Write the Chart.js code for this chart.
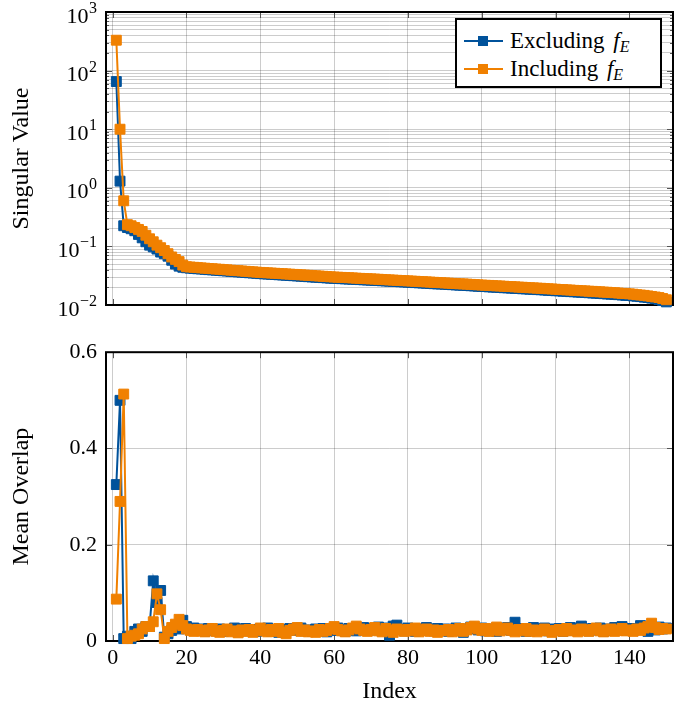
<!DOCTYPE html>
<html>
<head>
<meta charset="utf-8">
<script src="https://cdn.jsdelivr.net/npm/chart.js@4.4.1/dist/chart.umd.min.js"></script>
<style>
  body { margin: 0; background: #fff; }
  #wrap { position: relative; width: 689px; height: 706px; }
  .box { position: absolute; left: 0; width: 689px; }
  #legend {
    position: absolute; left: 455px; top: 18px; width: 203px; height: 66px;
    border: 2px solid #000; background: #fff;
    font-family: 'Liberation Serif', 'Times New Roman', serif; font-size: 23px;
  }
  #legend .row { position: absolute; left: 0; height: 28px; line-height: 28px; width: 100%; }
  #legend .swatch { position: absolute; left: 7px; top: 13px; width: 39px; height: 2px; }
  #legend .swatch::after {
    content: ''; position: absolute; left: 14px; top: -4px; width: 10px; height: 10px;
    background: inherit;
  }
  #legend .txt { position: absolute; left: 53px; top: 0; white-space: nowrap; }
  #legend i { margin-left: 3px; }
  #legend sub { font-size: 16px; font-style: italic; vertical-align: -4px; line-height: 0; }
</style>
</head>
<body>
<div id="wrap">
  <div class="box" style="top:0;height:320px"><canvas id="svChart"></canvas></div>
  <div class="box" style="top:330px;height:376px"><canvas id="ovChart"></canvas></div>
  <div id="legend">
    <div class="row" style="top:7px"><span class="swatch" style="background:#00529b"></span><span class="txt">Excluding <i>f</i><sub>E</sub></span></div>
    <div class="row" style="top:35px"><span class="swatch" style="background:#f08000"></span><span class="txt">Including <i>f</i><sub>E</sub></span></div>
  </div>
</div>
<script>
// index 1..150
const indices = Array.from({ length: 150 }, (_, i) => i + 1);
const xTicks = [0, 20, 40, 60, 80, 100, 120, 140];

const svTickLabels = [0.01, 0.1, 1, 10, 100, 1000];
const ovTicks = [0, 0.2, 0.4, 0.6];

const svExcluding = [
  65, 1.3, 0.225, 0.21, 0.2, 0.185, 0.16, 0.14, 0.12, 0.105,
  0.098, 0.09, 0.08, 0.075, 0.068, 0.058, 0.05, 0.046, 0.044, 0.0432,
  0.0425, 0.0420, 0.0415, 0.0411, 0.0406, 0.0401, 0.0397, 0.0392, 0.0388, 0.0384,
  0.0380, 0.0375, 0.0371, 0.0367, 0.0363, 0.0359, 0.0355, 0.0351, 0.0347, 0.0343,
  0.0340, 0.0337, 0.0334, 0.0331, 0.0328, 0.0325, 0.0322, 0.0319, 0.0316, 0.0313,
  0.0310, 0.0307, 0.0304, 0.0301, 0.0298, 0.0296, 0.0293, 0.0290, 0.0287, 0.0285,
  0.0283, 0.0281, 0.0279, 0.0277, 0.0275, 0.0273, 0.0271, 0.0269, 0.0267, 0.0265,
  0.0263, 0.0261, 0.0259, 0.0257, 0.0255, 0.0253, 0.0251, 0.0249, 0.0247, 0.0245,
  0.0243, 0.0241, 0.0239, 0.0237, 0.0235, 0.0233, 0.0231, 0.0229, 0.0228, 0.0226,
  0.0224, 0.0222, 0.0220, 0.0218, 0.0217, 0.0215, 0.0213, 0.0211, 0.0209, 0.0207,
  0.0206, 0.0204, 0.0202, 0.0201, 0.0199, 0.0197, 0.0196, 0.0194, 0.0192, 0.0191,
  0.0189, 0.0188, 0.0186, 0.0185, 0.0183, 0.0182, 0.0180, 0.0178, 0.0177, 0.0175,
  0.0174, 0.0172, 0.0171, 0.0169, 0.0168, 0.0166, 0.0165, 0.0163, 0.0162, 0.0160,
  0.0159, 0.0157, 0.0156, 0.0154, 0.0153, 0.0151, 0.0150, 0.0148, 0.0146, 0.0145,
  0.0143, 0.0141, 0.0139, 0.0136, 0.0134, 0.0131, 0.0128, 0.0124, 0.0119, 0.0113
];

const svIncluding = [
  330, 10, 0.6, 0.235, 0.225, 0.21, 0.195, 0.18, 0.155, 0.135,
  0.12, 0.105, 0.095, 0.085, 0.075, 0.066, 0.06, 0.055, 0.048, 0.045,
  0.0445, 0.0440, 0.0435, 0.0430, 0.0425, 0.0420, 0.0416, 0.0411, 0.0407, 0.0402,
  0.0398, 0.0393, 0.0389, 0.0385, 0.0381, 0.0376, 0.0372, 0.0368, 0.0364, 0.0360,
  0.0357, 0.0354, 0.0351, 0.0348, 0.0345, 0.0342, 0.0339, 0.0336, 0.0333, 0.0330,
  0.0327, 0.0324, 0.0321, 0.0318, 0.0315, 0.0312, 0.0309, 0.0306, 0.0303, 0.0300,
  0.0298, 0.0296, 0.0294, 0.0292, 0.0290, 0.0287, 0.0285, 0.0283, 0.0281, 0.0279,
  0.0277, 0.0275, 0.0273, 0.0270, 0.0268, 0.0266, 0.0264, 0.0262, 0.0260, 0.0258,
  0.0256, 0.0254, 0.0252, 0.0250, 0.0248, 0.0246, 0.0244, 0.0242, 0.0240, 0.0238,
  0.0236, 0.0234, 0.0232, 0.0230, 0.0229, 0.0227, 0.0225, 0.0223, 0.0221, 0.0219,
  0.0217, 0.0216, 0.0214, 0.0212, 0.0211, 0.0209, 0.0207, 0.0206, 0.0204, 0.0202,
  0.0201, 0.0199, 0.0197, 0.0196, 0.0194, 0.0193, 0.0191, 0.0189, 0.0188, 0.0186,
  0.0184, 0.0183, 0.0181, 0.0180, 0.0178, 0.0177, 0.0175, 0.0174, 0.0172, 0.0171,
  0.0169, 0.0168, 0.0166, 0.0165, 0.0163, 0.0162, 0.0160, 0.0158, 0.0157, 0.0155,
  0.0153, 0.0150, 0.0148, 0.0146, 0.0143, 0.0140, 0.0137, 0.0134, 0.0129, 0.0123
];

const ovExcluding = [
  0.325, 0.5, 0.005, 0.01, 0.005, 0.02, 0.025, 0.02, 0.03, 0.03,
  0.125, 0.08, 0.105, 0.008, 0.015, 0.022, 0.028, 0.025, 0.043,
  0.030, 0.024, 0.027, 0.022, 0.025, 0.020, 0.026, 0.023, 0.021, 0.025,
  0.020, 0.024, 0.022, 0.027, 0.019, 0.023, 0.026, 0.021, 0.024, 0.020,
  0.025, 0.022, 0.027, 0.020, 0.023, 0.018, 0.024, 0.021, 0.026, 0.022,
  0.024, 0.027, 0.021, 0.023, 0.020, 0.025, 0.022, 0.026, 0.019, 0.024,
  0.022, 0.027, 0.023, 0.020, 0.026, 0.024, 0.021, 0.025, 0.028, 0.022,
  0.026, 0.023, 0.029, 0.025, 0.027, 0.012, 0.031, 0.033, 0.024, 0.021,
  0.027, 0.023, 0.020, 0.025, 0.022, 0.028, 0.024, 0.021, 0.026, 0.023,
  0.025, 0.020, 0.024, 0.027, 0.022, 0.018, 0.025, 0.029, 0.026, 0.023,
  0.027, 0.021, 0.025, 0.023, 0.020, 0.026, 0.024, 0.028, 0.022, 0.039,
  0.026, 0.023, 0.020, 0.025, 0.028, 0.022, 0.024, 0.027, 0.021, 0.025,
  0.023, 0.026, 0.020, 0.024, 0.028, 0.022, 0.025, 0.031, 0.024, 0.021,
  0.026, 0.023, 0.027, 0.020, 0.025, 0.022, 0.028, 0.024, 0.030, 0.023,
  0.026, 0.022, 0.025, 0.032, 0.024, 0.020, 0.027, 0.023, 0.029, 0.025, 0.027
];

const ovIncluding = [
  0.087, 0.29, 0.513, 0.005, 0.01, 0.012, 0.015, 0.025, 0.03, 0.03,
  0.04, 0.098, 0.065, 0.005, 0.02, 0.028, 0.035, 0.045, 0.032,
  0.025, 0.022, 0.020, 0.024, 0.021, 0.019, 0.023, 0.026, 0.020, 0.018,
  0.022, 0.025, 0.019, 0.021, 0.017, 0.023, 0.020, 0.024, 0.018, 0.022,
  0.027, 0.021, 0.019, 0.024, 0.020, 0.026, 0.018, 0.015, 0.022, 0.025,
  0.028, 0.020, 0.023, 0.019, 0.021, 0.018, 0.024, 0.020, 0.022, 0.026,
  0.030, 0.024, 0.021, 0.019, 0.023, 0.027, 0.031, 0.025, 0.022, 0.020,
  0.024, 0.028, 0.021, 0.019, 0.026, 0.022, 0.018, 0.025, 0.023, 0.020,
  0.024, 0.021, 0.027, 0.019, 0.022, 0.025, 0.020, 0.023, 0.018, 0.022,
  0.021, 0.024, 0.019, 0.022, 0.026, 0.020, 0.023, 0.028, 0.031, 0.025,
  0.022, 0.026, 0.020, 0.024, 0.029, 0.021, 0.025, 0.027, 0.022, 0.019,
  0.024, 0.021, 0.026, 0.020, 0.023, 0.019, 0.022, 0.025, 0.021, 0.018,
  0.022, 0.024, 0.020, 0.026, 0.021, 0.023, 0.019, 0.025, 0.022, 0.020,
  0.024, 0.027, 0.021, 0.019, 0.023, 0.025, 0.020, 0.022, 0.026, 0.021,
  0.023, 0.020, 0.025, 0.022, 0.027, 0.030, 0.037, 0.028, 0.024, 0.026, 0.025
];

const BLUE = '#00529b';
const ORANGE = '#f08000';
const FONT = "'Liberation Serif', 'Times New Roman', serif";
const GRID = 'rgba(0,0,0,0.2)';

Chart.defaults.font.family = FONT;
Chart.defaults.font.size = 22;
Chart.defaults.color = '#000';

function series(values, color, order) {
  return {
    data: indices.map((x, i) => ({ x: x, y: values[i] })),
    borderColor: color,
    backgroundColor: color,
    pointBackgroundColor: color,
    pointBorderColor: color,
    pointStyle: 'rect',
    pointRadius: 7,
    pointBorderWidth: 1,
    borderWidth: 2,
    tension: 0,
    clip: false,
    order: order
  };
}

function isDecade(v) {
  const l = Math.log10(v);
  return Math.abs(l - Math.round(l)) < 1e-9;
}

// frame + inward tick marks, pgfplots style
const frame = {
  id: 'frame',
  beforeDatasetsDraw(chart) {
    const { ctx, chartArea: a, scales } = chart;
    ctx.save();
    ctx.strokeStyle = '#555';
    ctx.lineWidth = 1;
    ctx.beginPath();
    scales.x.ticks.forEach(t => {
      const px = Math.round(scales.x.getPixelForValue(t.value)) + 0.5;
      ctx.moveTo(px, a.bottom); ctx.lineTo(px, a.bottom - 6);
      ctx.moveTo(px, a.top); ctx.lineTo(px, a.top + 6);
    });
    const logY = scales.y.type === 'logarithmic';
    scales.y.ticks.forEach(t => {
      const py = Math.round(scales.y.getPixelForValue(t.value)) + 0.5;
      const len = (!logY || isDecade(t.value)) ? 6 : 3;
      ctx.moveTo(a.left, py); ctx.lineTo(a.left + len, py);
      ctx.moveTo(a.right, py); ctx.lineTo(a.right - len, py);
    });
    ctx.stroke();
    ctx.strokeStyle = '#000';
    ctx.lineWidth = 2;
    ctx.strokeRect(a.left, a.top, a.right - a.left, a.bottom - a.top);
    ctx.restore();
  }
};

// 10^k tick labels for the log axis
const powerLabels = {
  id: 'powerLabels',
  afterDraw(chart) {
    const { ctx } = chart;
    const y = chart.scales.y;
    ctx.save();
    ctx.fillStyle = '#000';
    ctx.textAlign = 'right';
    ctx.textBaseline = 'alphabetic';
    svTickLabels.forEach(v => {
      const py = y.getPixelForValue(v);
      const exp = String(Math.round(Math.log10(v))).replace('-', '\u2212');
      ctx.font = '16px ' + FONT;
      const ew = ctx.measureText(exp).width;
      ctx.fillText(exp, 97, py + 1);
      ctx.font = '22px ' + FONT;
      ctx.fillText('10', 97 - ew - 0.5, py + 10.5);
    });
    ctx.restore();
  }
};

const xScale = (showLabels) => ({
  type: 'linear',
  min: -1.8,
  max: 151.8,
  afterBuildTicks: s => { s.ticks = xTicks.map(v => ({ value: v })); },
  afterFit: s => { s.height = showLabels ? 65 : 15; },
  ticks: { display: showLabels, padding: 4, maxRotation: 0 },
  grid: { color: GRID, lineWidth: 1, drawTicks: false },
  border: { display: false },
  title: { display: showLabels, text: 'Index', font: { size: 24 }, padding: { top: 0, bottom: 0 } }
});

// log grid: 1..9 x 10^k
const svGridTicks = [];
for (let p = -2; p < 3; p++) {
  for (let k = 1; k <= 9; k++) svGridTicks.push(k * Math.pow(10, p));
}
svGridTicks.push(1000);

new Chart(document.getElementById('svChart'), {
  type: 'line',
  data: { datasets: [series(svExcluding, BLUE, 2), series(svIncluding, ORANGE, 1)] },
  options: {
    responsive: true,
    maintainAspectRatio: false,
    animation: false,
    layout: { padding: { top: 12, right: 16, bottom: 0, left: 0 } },
    plugins: { legend: { display: false }, tooltip: { enabled: false } },
    scales: {
      x: xScale(false),
      y: {
        type: 'logarithmic',
        min: 0.01,
        max: 1000,
        afterBuildTicks: s => { s.ticks = svGridTicks.map(v => ({ value: v })); },
        afterFit: s => { s.width = 106; },
        ticks: { display: false },
        grid: { color: GRID, lineWidth: 1, drawTicks: false },
        border: { display: false },
        title: { display: true, text: 'Singular Value', font: { size: 24 }, padding: { top: 7, bottom: 0 } }
      }
    }
  },
  plugins: [frame, powerLabels]
});

new Chart(document.getElementById('ovChart'), {
  type: 'line',
  data: { datasets: [series(ovExcluding, BLUE, 2), series(ovIncluding, ORANGE, 1)] },
  options: {
    responsive: true,
    maintainAspectRatio: false,
    animation: false,
    layout: { padding: { top: 21, right: 16, bottom: 0, left: 0 } },
    plugins: { legend: { display: false }, tooltip: { enabled: false } },
    scales: {
      x: xScale(true),
      y: {
        type: 'linear',
        min: 0,
        max: 0.6,
        afterBuildTicks: s => { s.ticks = ovTicks.map(v => ({ value: v })); },
        afterFit: s => { s.width = 106; },
        ticks: { padding: 9 },
        grid: { color: GRID, lineWidth: 1, drawTicks: false },
        border: { display: false },
        title: { display: true, text: 'Mean Overlap', font: { size: 24 }, padding: { top: 7, bottom: 0 } }
      }
    }
  },
  plugins: [frame]
});
</script>
</body>
</html>
